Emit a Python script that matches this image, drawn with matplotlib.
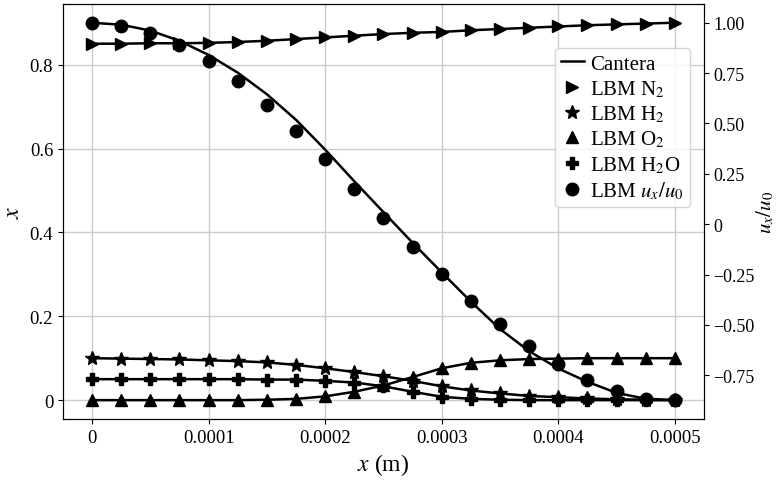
import matplotlib
matplotlib.use('Agg')
import matplotlib.pyplot as plt
import matplotlib.ticker as ticker
from matplotlib import rcParams

rcParams['font.family'] = 'serif'
rcParams['font.serif'] = ['Liberation Serif']
rcParams['mathtext.fontset'] = 'stix'

# positions along the channel (m)
pos = [0.0, 0.000025, 0.00005, 0.000075, 0.0001, 0.000125, 0.00015, 0.000175,
       0.0002, 0.000225, 0.00025, 0.000275, 0.0003, 0.000325, 0.00035,
       0.000375, 0.0004, 0.000425, 0.00045, 0.000475, 0.0005]

# mole fractions
x_n2 = [0.850, 0.850, 0.851, 0.851, 0.852, 0.854, 0.857, 0.861, 0.865, 0.869, 0.873,
        0.876, 0.878, 0.882, 0.885, 0.888, 0.891, 0.894, 0.896, 0.898, 0.900]
x_h2 = [0.100, 0.099, 0.098, 0.097, 0.095, 0.093, 0.090, 0.084, 0.076, 0.067, 0.057,
        0.046, 0.033, 0.023, 0.016, 0.010, 0.007, 0.004, 0.002, 0.001, 0.000]
x_o2 = [0.000, 0.000, 0.000, 0.000, 0.000, 0.000, 0.001, 0.003, 0.009, 0.020, 0.035,
        0.055, 0.076, 0.089, 0.095, 0.098, 0.099, 0.100, 0.100, 0.100, 0.100]
x_h2o = [0.050, 0.050, 0.050, 0.050, 0.050, 0.050, 0.049, 0.049, 0.046, 0.042, 0.033,
         0.020, 0.008, 0.003, 0.001, 0.000, 0.000, 0.000, 0.000, 0.000, 0.000]

# normalised velocity
u_lbm = [1.000, 0.984, 0.950, 0.887, 0.809, 0.710, 0.593, 0.462, 0.322, 0.176, 0.032,
         -0.113, -0.247, -0.380, -0.496, -0.603, -0.694, -0.774, -0.827, -0.865, -0.873]
u_cantera = [1.000, 0.990, 0.961, 0.910, 0.840, 0.752, 0.645, 0.518, 0.370, 0.213, 0.060,
             -0.092, -0.239, -0.384, -0.520, -0.630, -0.716, -0.782, -0.837, -0.866, -0.873]

fig = plt.figure(figsize=(7.77, 4.85), dpi=100)
fig.subplots_adjust(left=0.081, right=0.906, top=0.99, bottom=0.134)
ax = fig.add_subplot(111)
ax2 = ax.twinx()

lw = 1.8
ms = 9
ax.grid(True, color='#cccccc', lw=1.0)
ax.set_axisbelow(True)

# Cantera lines
line, = ax.plot(pos, x_n2, color='k', lw=lw, label='Cantera')
for vals in (x_h2, x_o2, x_h2o):
    ax.plot(pos, vals, color='k', lw=lw)
ax2.plot(pos, u_cantera, color='k', lw=lw)

# LBM markers
h_n2, = ax.plot(pos, x_n2, '>', color='k', ms=ms, ls='none', label='LBM N$_2$')
h_h2, = ax.plot(pos, x_h2, '*', color='k', ms=ms + 1, ls='none', label='LBM H$_2$')
h_o2, = ax.plot(pos, x_o2, '^', color='k', ms=ms, ls='none', label='LBM O$_2$')
h_h2o, = ax.plot(pos, x_h2o, 'P', color='k', ms=ms, ls='none', label='LBM H$_2$O')
h_u, = ax2.plot(pos, u_lbm, 'o', color='k', ms=ms, ls='none',
                label=r'LBM $u_x/u_{\mathit{0}}$')

ax.set_xlabel('$x$ (m)', fontsize=17)
ax.set_ylabel('$x$', fontsize=17)
ax2.set_ylabel(r'$u_x/u_{\mathit{0}}$', fontsize=15, labelpad=0)

def fmt_g(v, p):
    if abs(v) < 1e-12:
        return '0'
    return '{:g}'.format(v).replace('-', '\u2212')

def fmt_2f(v, p):
    if abs(v) < 1e-12:
        return '0'
    return '{:.2f}'.format(v).replace('-', '\u2212')

ax.xaxis.set_major_locator(ticker.MultipleLocator(0.0001))
ax.xaxis.set_major_formatter(ticker.FuncFormatter(fmt_g))
ax.yaxis.set_major_formatter(ticker.FuncFormatter(fmt_g))
ax2.yaxis.set_major_locator(ticker.MultipleLocator(0.25))
ax2.yaxis.set_major_formatter(ticker.FuncFormatter(fmt_2f))
ax.tick_params(labelsize=13.5)
ax2.tick_params(labelsize=13, pad=3)

ax2.legend(handles=[line, h_n2, h_h2, h_o2, h_h2o, h_u], loc='upper right',
           bbox_to_anchor=(0.978, 0.894), borderaxespad=0, fontsize=15,
           handlelength=1.1, handletextpad=0.3, labelspacing=0.22,
           borderpad=0.3)

fig.savefig('out.png', dpi=100)
